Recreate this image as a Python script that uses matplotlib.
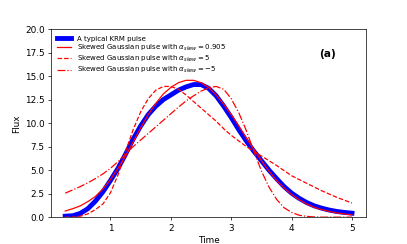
import matplotlib
matplotlib.use('Agg')
import matplotlib.pyplot as plt
import numpy as np

# values, every 0.125 time units
time = [0.25, 0.375, 0.5, 0.625, 0.75, 0.875, 1.0, 1.125, 1.25, 1.375,
        1.5, 1.625, 1.75, 1.875, 2.0, 2.125, 2.25, 2.375, 2.5, 2.625,
        2.75, 2.875, 3.0, 3.125, 3.25, 3.375, 3.5, 3.625, 3.75, 3.875,
        4.0, 4.125, 4.25, 4.375, 4.5, 4.625, 4.75, 4.875, 5.0]

krm_pulse = [0.1, 0.15, 0.4, 0.9, 1.7, 2.7, 3.9, 5.2, 6.7, 8.3,
             9.7, 10.9, 11.8, 12.5, 13.0, 13.5, 13.85, 14.1, 14.1, 13.7,
             12.9, 11.8, 10.6, 9.3, 8.1, 7.0, 6.0, 5.0, 4.1, 3.25,
             2.55, 2.0, 1.55, 1.2, 0.95, 0.75, 0.6, 0.5, 0.42]

skew_0905 = [0.65, 0.9, 1.2, 1.65, 2.2, 3.0, 4.0, 5.2, 6.5, 8.0,
             9.5, 10.9, 12.1, 13.1, 13.8, 14.3, 14.55, 14.55, 14.3, 13.8,
             13.0, 12.0, 10.9, 9.7, 8.4, 7.2, 6.0, 4.9, 3.9, 3.1,
             2.4, 1.85, 1.4, 1.05, 0.8, 0.6, 0.45, 0.33, 0.25]

skew_pos5 = [0.0, 0.0, 0.1, 0.35, 0.8, 1.4, 2.6, 4.5, 7.0, 9.3,
             11.2, 12.6, 13.5, 13.9, 13.9, 13.6, 13.0, 12.3, 11.6, 10.9,
             10.2, 9.4, 8.7, 8.1, 7.5, 7.0, 6.5, 6.0, 5.5, 4.95,
             4.4, 4.0, 3.6, 3.2, 2.8, 2.45, 2.1, 1.8, 1.5]

skew_neg5 = [2.55, 2.9, 3.25, 3.65, 4.1, 4.6, 5.2, 5.9, 6.7, 7.5,
             8.2, 8.9, 9.6, 10.3, 11.0, 11.7, 12.35, 12.9, 13.4, 13.75,
             13.9, 13.6, 12.6, 11.1, 9.2, 7.0, 4.9, 3.2, 1.9, 1.0,
             0.5, 0.2, 0.08, 0.02, 0.0, 0.0, 0.0, 0.0, 0.0]

fig, ax = plt.subplots(figsize = (6.4, 3.84))

ax.plot(time, krm_pulse, color = 'blue', linewidth = 5.5, label = 'A typical KRM pulse')
ax.plot(time, skew_0905, color = 'red', linewidth = 1.4, linestyle = '-',
        label = r'Skewed Gaussian pulse with $\alpha_{skew} = 0.905$')
ax.plot(time, skew_pos5, color = 'red', linewidth = 1.4, linestyle = '--',
        label = r'Skewed Gaussian pulse with $\alpha_{skew} = 5$')
ax.plot(time, skew_neg5, color = 'red', linewidth = 1.4, linestyle = '-.',
        label = r'Skewed Gaussian pulse with $\alpha_{skew} = -5$')

ax.set_ylim(0, 20)
ax.set_xticks([1, 2, 3, 4, 5])
ax.set_xlabel('Time')
ax.set_ylabel('Flux')

ax.text(4.6, 17.4, '(a)', ha = 'center', va = 'center', fontsize = 12, fontweight = 'bold')
ax.legend(loc = 'upper left', fontsize = 8, frameon = False, labelspacing = 0.15)

plt.savefig('out.png', dpi = 63.6, facecolor = 'white')
plt.close()
